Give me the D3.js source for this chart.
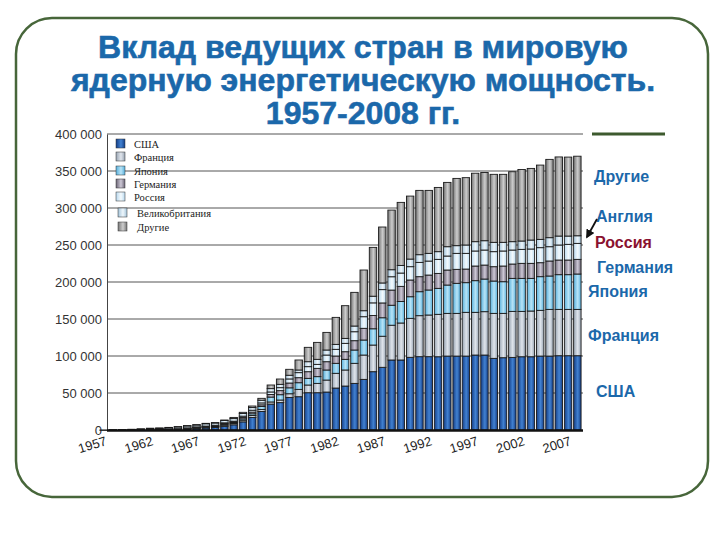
<!DOCTYPE html>
<html>
<head>
<meta charset="utf-8">
<script src="https://cdn.jsdelivr.net/npm/d3@7"></script>
<style>
  body { margin: 0; background: #fff; }
  text { font-family: Arial, "Liberation Sans", sans-serif; }
</style>
</head>
<body>
<div id="chart"></div>
<script>
// years and capacity per country, MW
const years = [1957,1958,1959,1960,1961,1962,1963,1964,1965,1966,
  1967,1968,1969,1970,1971,1972,1973,1974,1975,1976,
  1977,1978,1979,1980,1981,1982,1983,1984,1985,1986,
  1987,1988,1989,1990,1991,1992,1993,1994,1995,1996,
  1997,1998,1999,2000,2001,2002,2003,2004,2005,2006,
  2007,2008];
const usa = [0,60,60,300,400,600,700,800,800,1500,
  2300,2800,3500,5000,7000,11000,17000,25000,35000,37000,
  44000,45000,50400,50400,51300,56700,59400,63000,68400,78800,
  84700,94600,94600,98200,99100,99100,99000,99900,99900,99900,
  101300,101300,96800,97700,98100,99000,99000,99900,99900,100400,
  100400,100400];
const france = [0,0,40,100,100,200,300,400,500,600,
  800,1200,1400,1600,1700,2300,2600,2800,2900,3500,
  5000,9900,10400,12600,16200,19900,21700,27100,32900,36000,
  42000,47000,50000,52700,55400,56300,57300,57700,57700,59100,
  57700,58600,60800,59900,62200,61300,61800,61800,63100,62600,
  62600,62600];
const japan = [0,0,0,0,0,0,10,10,10,160,
  200,200,200,1300,1300,1800,2300,3900,6600,7200,
  8000,9000,9000,9100,13600,13500,14400,18000,20300,22000,
  25000,27000,29000,29200,32400,33800,35100,38300,40600,40100,
  42800,44100,43700,42800,44600,44600,44100,45500,45100,46900,
  46900,47800];
const germany = [0,0,0,0,20,20,20,20,50,100,
  300,300,400,900,900,1900,2300,2300,3500,5500,
  6500,6800,9000,11200,11200,9900,10300,12600,15800,18000,
  20000,20500,20500,22600,20300,20200,20200,20300,18900,18400,
  19800,18900,19400,21200,19400,20300,20300,18900,20300,19800,
  19800,19800];
const russia = [0,50,100,100,100,200,200,300,400,500,
  600,800,900,900,1000,1700,2500,2600,3400,4000,
  5500,6800,6800,5400,9000,9000,11300,12100,15700,17000,
  18000,18000,18000,18000,19300,18900,19000,18900,21600,21200,
  20300,20300,20300,20300,18900,18900,19400,20300,19300,20300,
  21200,21600];
const uk = [100,200,400,500,800,1200,1300,1900,2600,2800,
  2800,3200,3200,3200,3500,3600,3600,3600,4500,4500,
  5000,3600,6700,6800,6800,6700,6700,7700,8100,9000,
  9000,9500,10300,10300,10400,10400,10400,12600,10400,11300,
  12600,12600,12600,11700,11300,11300,12100,11200,12200,12100,
  11200,10300];
const others = [0,0,0,0,50,100,100,100,200,300,
  200,500,400,600,1600,1600,2100,2600,4900,7200,
  8000,13500,19400,22900,23800,36500,44200,45500,55000,66000,
  75600,80600,85200,85100,86900,85100,86800,86900,90900,91000,
  92500,92200,91900,91900,94500,96600,96800,100400,105800,106900,
  106700,107500];

const keys = ['usa', 'france', 'japan', 'germany', 'russia', 'uk', 'others'];
const legendNames = ['США', 'Франция', 'Япония', 'Германия', 'Россия', 'Великобритания', 'Другие'];
const yTicks = [0, 50000, 100000, 150000, 200000, 250000, 300000, 350000, 400000];
const xTickYears = [1957, 1962, 1967, 1972, 1977, 1982, 1987, 1992, 1997, 2002, 2007];
const sideLabels = ['Другие', 'Англия', 'Россия', 'Германия', 'Япония', 'Франция', 'США'];

// gradient colours per series [edge, centre]
const colors = {
  usa: ['#143d85', '#4282d2'],
  france: ['#98a4b2', '#e0e5ec'],
  japan: ['#58b0dc', '#b8e4f7'],
  germany: ['#6a6474', '#cdc8d6'],
  russia: ['#b8d8ee', '#f4fafd'],
  uk: ['#a4c4da', '#eef6fb'],
  others: ['#767676', '#cdcdcd']
};

const width = 720, height = 540;
const svg = d3.select('#chart').append('svg')
  .attr('width', width)
  .attr('height', height);

// frame
svg.append('rect')
  .attr('x', 16).attr('y', 18)
  .attr('width', 692).attr('height', 479)
  .attr('rx', 36)
  .attr('fill', 'none')
  .attr('stroke', '#47663a')
  .attr('stroke-width', 2.5);

// title
const titleLines = ['Вклад ведущих стран в мировую', 'ядерную энергетическую мощность.', '1957-2008 гг.'];
svg.append('g').selectAll('text')
  .data(titleLines)
  .join('text')
    .attr('x', 363)
    .attr('y', (d, i) => 58 + i * 33)
    .attr('text-anchor', 'middle')
    .attr('font-size', 32)
    .attr('font-weight', 'bold')
    .attr('fill', '#1b68aa')
    .attr('stroke', '#1b68aa')
    .attr('stroke-width', 0.6)
    .text(d => d);

// gradients
const defs = svg.append('defs');
keys.forEach(k => {
  const g = defs.append('linearGradient')
    .attr('id', 'grad-' + k)
    .attr('x1', '0%').attr('x2', '100%').attr('y1', '0%').attr('y2', '0%');
  g.append('stop').attr('offset', '0%').attr('stop-color', colors[k][0]);
  g.append('stop').attr('offset', '55%').attr('stop-color', colors[k][1]);
  g.append('stop').attr('offset', '100%').attr('stop-color', colors[k][0]);
});

// scales
const x = d3.scaleBand()
  .domain(years)
  .range([99, 582])
  .paddingInner(0.2)
  .paddingOuter(0.1);
const y = d3.scaleLinear()
  .domain([0, 400000])
  .range([430, 134]);

const locale = d3.formatLocale({decimal: ',', thousands: ' ', grouping: [3], currency: ['', '']});
const fmt = locale.format(',');

// grid lines
svg.append('g').selectAll('line')
  .data(yTicks.slice(1))
  .join('line')
    .attr('x1', 107).attr('x2', 583)
    .attr('y1', d => y(d)).attr('y2', d => y(d))
    .attr('stroke', '#555')
    .attr('stroke-width', 1);

// y axis
const yAxisG = svg.append('g')
  .attr('transform', 'translate(107,0)')
  .call(d3.axisLeft(y).tickValues(yTicks).tickSize(0).tickPadding(5).tickFormat(fmt));
yAxisG.select('.domain').attr('stroke', '#444');
yAxisG.selectAll('text')
  .attr('font-size', 13)
  .attr('fill', '#333')
  .style('font-family', 'Arial, sans-serif');

// stacked bars
const table = years.map((yr, i) => ({
  year: yr, usa: usa[i], france: france[i], japan: japan[i], germany: germany[i],
  russia: russia[i], uk: uk[i], others: others[i]
}));
const stack = d3.stack().keys(keys)(table);

svg.append('g').selectAll('g')
  .data(stack)
  .join('g')
    .attr('fill', d => `url(#grad-${d.key})`)
  .selectAll('rect')
  .data(d => d.filter(s => s[1] - s[0] > 0))
  .join('rect')
    .attr('x', d => x(d.data.year))
    .attr('y', d => y(d[1]))
    .attr('width', x.bandwidth())
    .attr('height', d => Math.max(0.5, y(d[0]) - y(d[1])))
    .attr('stroke', '#1a1a1a')
    .attr('stroke-width', 0.9);

// x axis line
svg.append('line')
  .attr('x1', 107).attr('x2', 583)
  .attr('y1', 430.5).attr('y2', 430.5)
  .attr('stroke', '#111')
  .attr('stroke-width', 2.5);

// x tick labels
svg.append('g').selectAll('text')
  .data(xTickYears)
  .join('text')
    .attr('transform', d => `translate(${x(d) + x.bandwidth() / 2 - 10},${449}) rotate(-17)`)
    .attr('text-anchor', 'middle')
    .attr('font-size', 13)
    .attr('fill', '#222')
    .text(d => d);

// legend (sits on the grid, no box)
const legend = svg.append('g');
const legendY = [146, 159, 173, 186, 199, 215, 229];
legend.selectAll('rect')
  .data(keys)
  .join('rect')
    .attr('x', (d, i) => i < 5 ? 116 : 118)
    .attr('y', (d, i) => legendY[i] - 7)
    .attr('width', 9).attr('height', 9)
    .attr('fill', d => `url(#grad-${d})`)
    .attr('stroke', '#333')
    .attr('stroke-width', 0.5);
legend.selectAll('text')
  .data(legendNames)
  .join('text')
    .attr('x', (d, i) => i < 5 ? 134 : 137)
    .attr('y', (d, i) => legendY[i] + 2)
    .attr('font-size', 10.5)
    .attr('fill', '#222')
    .style('font-family', '"Liberation Serif", "DejaVu Serif", serif')
    .text(d => d);

// right-hand labels
svg.append('line')
  .attr('x1', 592).attr('x2', 665)
  .attr('y1', 134).attr('y2', 134)
  .attr('stroke', '#3d5a2e')
  .attr('stroke-width', 3);

const sideX = [594, 596, 595, 597, 588, 588, 596];
const sideY = [182, 222, 248, 273, 297, 341, 397];
svg.append('g').selectAll('text')
  .data(sideLabels)
  .join('text')
    .attr('x', (d, i) => sideX[i])
    .attr('y', (d, i) => sideY[i])
    .attr('font-size', 16)
    .attr('font-weight', 'bold')
    .attr('fill', d => d === 'Россия' ? '#8a1230' : '#1b68aa')
    .text(d => d);

// small arrow to the UK segment
defs.append('marker')
  .attr('id', 'arrow')
  .attr('viewBox', '0 0 10 10')
  .attr('refX', 8).attr('refY', 5)
  .attr('markerWidth', 5).attr('markerHeight', 5)
  .attr('orient', 'auto')
  .append('path')
    .attr('d', 'M0,0 L10,5 L0,10 z')
    .attr('fill', '#111');
svg.append('line')
  .attr('x1', 597).attr('y1', 219)
  .attr('x2', 587).attr('y2', 237)
  .attr('stroke', '#111')
  .attr('stroke-width', 1.8)
  .attr('marker-end', 'url(#arrow)');
</script>
</body>
</html>
